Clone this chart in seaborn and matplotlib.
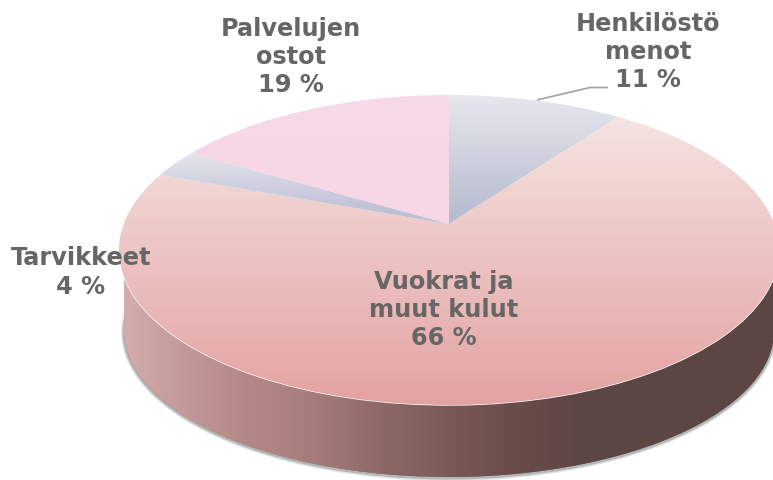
import numpy as np
import matplotlib
matplotlib.use("Agg")
import matplotlib.pyplot as plt
from matplotlib.patches import Ellipse, Polygon
from matplotlib.transforms import Transform
import seaborn as sns

# Wording and percentages as printed on the chart
labels = ["Henkilöstö\nmenot\n11 %", "Vuokrat ja\nmuut kulut\n66 %", "Tarvikkeet\n4 %", "Palvelujen\nostot\n19 %"]
# Slice sizes as measured on the drawn disc (they differ a little from the printed numbers)
drawn_shares = [10.05, 70.55, 2.95, 16.45]

top_stops = [["#e7e7ed", "#b4b9cd"], ["#f5e4e2", "#e3a2a1"], ["#e5e5ed", "#b6b9cf"], ["#f8d9e8", "#f7d6e6"]]
top_spans = [(95, 225), (116, 405), (152, 225), (95, 225)]
side_stops = ["#d6b0b0", "#c49a9a", "#b38785", "#a67c7a", "#8e6a67", "#7a5a57", "#6a4d4b", "#5c4644"]

W, H = 773, 480
CX, CY, A, B = 449, 250, 330, 155     # top ellipse
APEX_Y = 224                          # where the slices meet
LX, LY, LA, LB = 449, 331, 325, 146   # bottom rim ellipse
V0 = (CY - APEX_Y) / B


class DiscPerspective(Transform):
    """Maps the unit circle onto the tilted top of the pie, keeping the rim on the ellipse."""
    input_dims = output_dims = 2
    is_affine = False
    has_inverse = False

    def transform_non_affine(self, values):
        p = np.asarray(values, float)
        x, y = p[:, 0], p[:, 1]
        d = 1 + V0 * y
        u = x * np.sqrt(1 - V0 ** 2) / d
        v = (y + V0) / d
        return np.column_stack([CX + A * u, CY - B * v])


sns.set_theme(style="white")
fig = plt.figure(figsize=(W / 100, H / 100), dpi=100)
ax = fig.add_axes([0, 0, 1, 1])

# Soft shadow under the side wall
for grow, alpha in ((3.0, 0.25), (1.6, 0.55)):
    ax.add_patch(Ellipse((LX, LY + 1), 2 * (LA + grow), 2 * (LB + grow), fc="#8f9492", ec="none", alpha=alpha, zorder=1))

# Side wall
side_cmap = sns.blend_palette(side_stops, as_cmap=True)
t = np.linspace(0, np.pi, 200)
wall = Polygon(
    np.vstack([
        [[LX - LA, CY + 30], [LX + LA, CY + 30]],
        np.column_stack([LX + LA * np.cos(t), LY + LB * np.sin(t)]),
    ]),
    closed=True, fc="#8a6562", ec="none", zorder=2,
)
ax.add_patch(wall)
im = ax.imshow(np.linspace(0, 1, 256)[None, :], extent=(115, 579, H, 0), cmap=side_cmap,
               aspect="auto", zorder=2.1, interpolation="bilinear")
im.set_clip_path(wall)
right = ax.imshow(np.ones((2, 2)), extent=(579, W, H, 0), cmap=side_cmap, vmin=0, vmax=1,
                  aspect="auto", zorder=2.1)
right.set_clip_path(wall)

# Top of the pie
wedges, _ = ax.pie(drawn_shares, startangle=90, counterclock=False, colors=[s[1] for s in top_stops])
proj = DiscPerspective() + ax.transData
for w, stops, (y0, y1) in zip(wedges, top_stops, top_spans):
    w.set_transform(proj)
    w.set_zorder(3)
    w.set_clip_on(False)
    w.set_facecolor(sns.blend_palette(stops, 3)[1])
    g = ax.imshow(np.linspace(0, 1, 256)[:, None], extent=(0, W, y1, y0),
                  cmap=sns.blend_palette(stops, as_cmap=True), aspect="auto", zorder=3.1,
                  interpolation="bilinear")
    g.set_clip_path(w)

# Leader line and labels
ax.plot([537, 590, 608], [100, 87.5, 87.5], color="#a6a6a6", lw=1.3, zorder=4, solid_capstyle="butt")
label_xy = [(648, 52), (444, 310), (81, 272.5), (291, 57)]
for text, (x, y) in zip(labels, label_xy):
    ax.text(x, y, text, ha="center", va="center", fontsize=17.3, fontweight="bold",
            family="DejaVu Sans", color="#666666", linespacing=1.22, zorder=5)

ax.set_aspect("auto")
ax.set_xlim(0, W)
ax.set_ylim(H, 0)
ax.axis("off")
fig.savefig("out.png", dpi=100, facecolor="white")
